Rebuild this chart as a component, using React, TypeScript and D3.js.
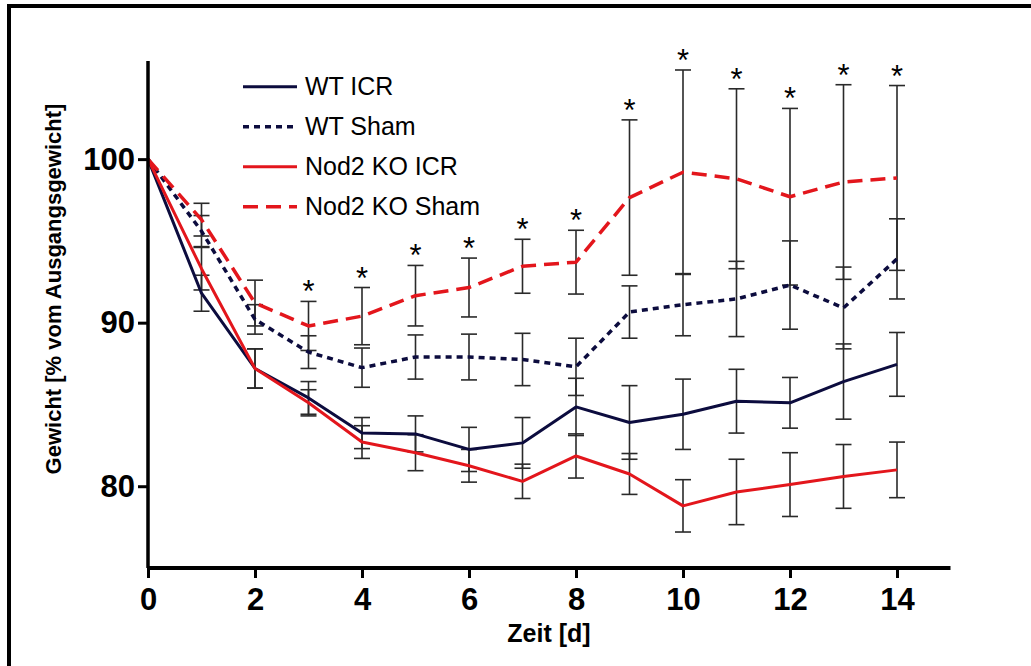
import { useRef, useEffect } from "react";
import * as d3 from "d3";

// Tage 0..14
const days = [0, 1, 2, 3, 4, 5, 6, 7, 8, 9, 10, 11, 12, 13, 14];

// Mittelwerte [% vom Ausgangsgewicht]
const wtIcr = [100, 91.8, 87.2, 85.4, 83.25, 83.2, 82.25, 82.65, 84.85, 83.9, 84.4, 85.2, 85.1, 86.4, 87.45];
const wtSham = [100, 95.6, 90.2, 88.2, 87.25, 87.9, 87.9, 87.75, 87.3, 90.65, 91.1, 91.45, 92.3, 90.9, 93.9];
const koIcr = [100, 93.3, 87.2, 85.1, 82.7, 82.05, 81.25, 80.3, 81.85, 80.75, 78.8, 79.65, 80.1, 80.6, 81.0];
const koSham = [100, 96.3, 91.2, 89.8, 90.4, 91.65, 92.15, 93.45, 93.7, 97.65, 99.2, 98.8, 97.7, 98.6, 98.85];

// Fehlerbalken (SEM)
const wtIcrErr = [0, 1.1, 1.2, 1.0, 0.95, 1.1, 1.35, 1.55, 1.75, 2.25, 2.15, 1.95, 1.55, 2.3, 1.95];
const wtShamErr = [0, 0.95, 0.9, 1.0, 1.2, 1.35, 1.4, 1.6, 1.75, 1.6, 1.9, 2.3, 2.7, 2.5, 2.45];
const koIcrErr = [0, 1.3, 1.2, 0.8, 1.0, 1.1, 1.0, 1.05, 1.35, 1.25, 1.6, 2.0, 1.95, 1.95, 1.7];
const koShamErr = [0, 1.0, 1.4, 1.5, 1.75, 1.85, 1.8, 1.65, 1.95, 4.75, 6.25, 5.5, 5.4, 5.95, 5.65];

// Signifikanz-Sterne
const starDays = [3, 4, 5, 6, 7, 8, 9, 10, 11, 12, 13, 14];

const xTicks = [0, 2, 4, 6, 8, 10, 12, 14];
const yTicks = [80, 90, 100];

const NAVY = "#0c0c3e";
const RED = "#e3161c";
const FONT = "'Liberation Sans', Arial, sans-serif";

const series = [
  { name: "WT ICR", values: wtIcr, err: wtIcrErr, color: NAVY, dash: null, width: 3 },
  { name: "WT Sham", values: wtSham, err: wtShamErr, color: NAVY, dash: "6,5", width: 3.5 },
  { name: "Nod2 KO ICR", values: koIcr, err: koIcrErr, color: RED, dash: null, width: 3 },
  { name: "Nod2 KO Sham", values: koSham, err: koShamErr, color: RED, dash: "15,8", width: 3.5 },
];

const App = () => {
  const svgRef = useRef<SVGSVGElement>(null);

  useEffect(() => {
    const width = 1031;
    const height = 666;
    const svg = d3.select(svgRef.current).attr("width", width).attr("height", height);
    svg.selectAll("*").remove();

    // Rahmen (nur oben und links sichtbar)
    svg.append("path")
      .attr("d", `M9,${height} V6 H${width}`)
      .attr("fill", "none")
      .attr("stroke", "#000")
      .attr("stroke-width", 4);

    const x = d3.scaleLinear().domain([0, 15]).range([148, 950.5]);
    const y = d3.scaleLinear().domain([75, 106]).range([568, 61]);

    // Fehlerbalken
    const capW = 8;
    const eb = svg.append("g").attr("stroke", "#2a2a2a").attr("stroke-width", 1.6);
    series.forEach(s => {
      days.forEach((d, i) => {
        const e = s.err[i];
        if (e <= 0) return;
        const cx = x(d);
        const hi = y(s.values[i] + e);
        const lo = y(s.values[i] - e);
        eb.append("line").attr("x1", cx).attr("x2", cx).attr("y1", hi).attr("y2", lo);
        eb.append("line").attr("x1", cx - capW).attr("x2", cx + capW).attr("y1", hi).attr("y2", hi);
        eb.append("line").attr("x1", cx - capW).attr("x2", cx + capW).attr("y1", lo).attr("y2", lo);
      });
    });

    // Linien
    const line = d3.line<number>().x((_, i) => x(days[i])).y(v => y(v));
    series.forEach(s => {
      svg.append("path")
        .attr("d", line(s.values))
        .attr("fill", "none")
        .attr("stroke", s.color)
        .attr("stroke-width", s.width)
        .attr("stroke-dasharray", s.dash)
        .attr("stroke-linejoin", "round");
    });

    // Sterne über dem höchsten Fehlerbalken
    svg.append("g")
      .selectAll("text")
      .data(starDays)
      .join("text")
      .attr("x", d => x(d))
      .attr("y", d => {
        const top = d3.max(series, s => s.values[d] + s.err[d]) as number;
        return y(top) + 1;
      })
      .attr("text-anchor", "middle")
      .attr("font-family", FONT)
      .attr("font-size", 31)
      .attr("fill", "#000")
      .text("*");

    // x-Achse
    svg.append("g")
      .attr("transform", `translate(0, ${y(75)})`)
      .call(d3.axisBottom(x).tickValues(xTicks).tickSize(10).tickPadding(10).tickFormat(d3.format("d")))
      .call(g => g.select(".domain").attr("stroke-width", 4).attr("d", `M${x(0)},0H${x(15)}`))
      .call(g => g.selectAll(".tick line").attr("stroke-width", 3))
      .call(g => g.selectAll("text")
        .attr("fill", "#000")
        .attr("font-family", FONT)
        .attr("font-size", 31)
        .attr("font-weight", "bold"));

    // y-Achse
    svg.append("g")
      .attr("transform", `translate(${x(0)}, 0)`)
      .call(d3.axisLeft(y).tickValues(yTicks).tickSize(10).tickPadding(3).tickFormat(d3.format("d")))
      .call(g => g.select(".domain").attr("stroke-width", 3.5).attr("d", `M0,${y(75)}V${y(106)}`))
      .call(g => g.selectAll(".tick line").attr("stroke-width", 3))
      .call(g => g.selectAll("text")
        .attr("fill", "#000")
        .attr("font-family", FONT)
        .attr("font-size", 31)
        .attr("font-weight", "bold"));

    // Achsentitel
    svg.append("text")
      .attr("x", 549)
      .attr("y", 642)
      .attr("text-anchor", "middle")
      .attr("font-family", FONT)
      .attr("font-size", 25)
      .attr("font-weight", "bold")
      .text("Zeit [d]");

    svg.append("text")
      .attr("transform", "translate(61, 289) rotate(-90)")
      .attr("text-anchor", "middle")
      .attr("font-family", FONT)
      .attr("font-size", 22)
      .attr("font-weight", "bold")
      .text("Gewicht [% vom Ausgangsgewicht]");

    // Legende
    const legend = svg.append("g");
    series.forEach((s, i) => {
      const ly = 86.7 + i * 40;
      legend.append("line")
        .attr("x1", 243).attr("x2", 297).attr("y1", ly).attr("y2", ly)
        .attr("stroke", s.color)
        .attr("stroke-width", s.width)
        .attr("stroke-dasharray", s.dash);
      legend.append("text")
        .attr("x", 305)
        .attr("y", ly)
        .attr("dy", "0.35em")
        .attr("font-family", FONT)
        .attr("font-size", 25)
        .attr("fill", "#000")
        .text(s.name);
    });
  }, []);

  return (
    <svg ref={svgRef} style={{ position: "absolute", left: 0, top: 0, background: "#fff" }}></svg>
  );
};

export default App;
